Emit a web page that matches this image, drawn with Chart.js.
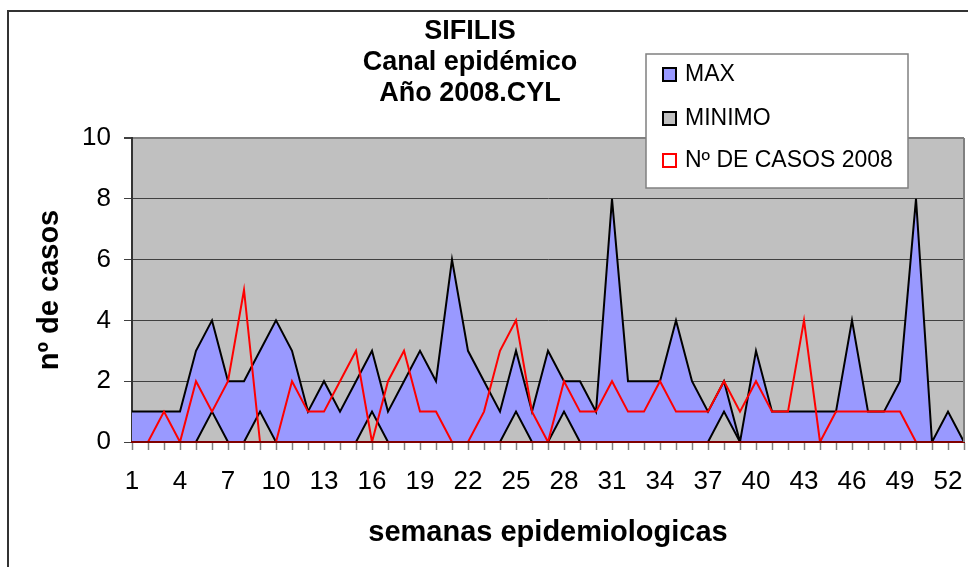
<!DOCTYPE html>
<html>
<head>
<meta charset="utf-8">
<script src="https://cdn.jsdelivr.net/npm/chart.js@4"></script>
<style>
  body { margin: 0; background: #fff; }
  canvas { display: block; }
</style>
</head>
<body>
<canvas id="myChart" width="968" height="567"></canvas>
<script>
// semanas epidemiologicas (1..53)
const semanas = ["1","2","3","4","5","6","7","8","9","10","11","12","13","14","15","16","17","18","19","20",
  "21","22","23","24","25","26","27","28","29","30","31","32","33","34","35","36","37","38","39","40",
  "41","42","43","44","45","46","47","48","49","50","51","52","53"];

const maximo = [1,1,1,1,3,4,2,2,3,4, 3,1,2,1,2,3,1,2,3,2, 6,3,2,1,3,1,3,2,2,1,
  8,2,2,2,4,2,1,2,0,3, 1,1,1,1,1,4,1,1,2,8, 0,1,0];

const minimo = [0,0,0,0,0,1,0,0,1,0, 0,0,0,0,0,1,0,0,0,0, 0,0,0,0,1,0,0,1,0,0,
  0,0,0,0,0,0,0,1,0,0, 0,0,0,0,0,0,0,0,0,0, 0,0,0];

const casos2008 = [null,0,1,0,2,1,2,5,0,0, 2,1,1,2,3,0,2,3,1,1, 0,0,1,3,4,1,0,2,1,1,
  2,1,1,2,1,1,1,2,1,2, 1,1,4,0,1,1,1,1,1,0, null,null,null];

const titulo = ["SIFILIS", "Canal epidémico", "Año 2008.CYL"];

const FONT = "'Liberation Sans', Arial, sans-serif";

// fondo gris del area de trazado + marco exterior
const fondo = {
  id: "fondo",
  beforeDraw(chart) {
    const { ctx, chartArea: a } = chart;
    ctx.save();
    ctx.fillStyle = "#C0C0C0";
    ctx.fillRect(a.left, a.top, a.right - a.left, a.bottom - a.top);
    ctx.strokeStyle = "#333";
    ctx.lineWidth = 2;
    ctx.beginPath();
    ctx.moveTo(8, 567);
    ctx.lineTo(8, 11);
    ctx.lineTo(968, 11);
    ctx.stroke();
    ctx.restore();
  },
  afterDraw(chart) {
    const { ctx, chartArea: a } = chart;
    ctx.save();
    // borde derecho del area
    ctx.strokeStyle = "#808080";
    ctx.lineWidth = 2;
    ctx.beginPath();
    ctx.moveTo(a.right, a.top);
    ctx.lineTo(a.right, a.bottom);
    ctx.stroke();

    // titulo
    ctx.fillStyle = "#000";
    ctx.font = "bold 27px " + FONT;
    ctx.textAlign = "center";
    ctx.textBaseline = "middle";
    const ys = [32, 63, 94];
    titulo.forEach((t, i) => ctx.fillText(t, 470, ys[i]));

    // leyenda
    ctx.fillStyle = "#fff";
    ctx.fillRect(646, 54, 262, 134);
    ctx.strokeStyle = "#808080";
    ctx.lineWidth = 1.5;
    ctx.strokeRect(646, 54, 262, 134);
    const rows = [75, 119, 161];
    ctx.font = "23px " + FONT;
    ctx.textAlign = "left";
    chart.data.datasets.forEach((ds, i) => {
      const y = rows[i];
      ctx.fillStyle = ds.fill ? ds.backgroundColor : "#fff";
      ctx.fillRect(663, y - 7, 13, 13);
      ctx.strokeStyle = ds.borderColor;
      ctx.lineWidth = 2;
      ctx.strokeRect(663, y - 7, 13, 13);
      ctx.fillStyle = "#000";
      ctx.fillText(ds.label, 685, y);
    });
    ctx.restore();
  }
};

const data = {
  labels: semanas,
  datasets: [
    {
      label: "MAX",
      data: maximo,
      borderColor: "#000",
      backgroundColor: "#9999FF",
      borderWidth: 2,
      fill: "origin",
      pointRadius: 0,
      order: 3
    },
    {
      label: "MINIMO",
      data: minimo,
      borderColor: "#000",
      backgroundColor: "#C0C0C0",
      borderWidth: 2,
      fill: "origin",
      pointRadius: 0,
      order: 2
    },
    {
      label: "Nº DE CASOS 2008",
      data: casos2008,
      borderColor: "#FF0000",
      backgroundColor: "#FF0000",
      borderWidth: 2,
      fill: false,
      pointRadius: 0,
      order: 1
    }
  ]
};

const ctx = document.getElementById("myChart").getContext("2d");
myChart = new Chart(ctx, {
  type: "line",
  data: data,
  plugins: [fondo],
  options: {
    responsive: false,
    animation: false,
    layout: { padding: { left: 0, right: 4, top: 138, bottom: 0 } },
    plugins: {
      legend: { display: false },
      tooltip: { enabled: false }
    },
    scales: {
      x: {
        afterFit(scale) {
          scale.height = 125;
          scale.paddingLeft = 0;
          scale.paddingRight = 0;
        },
        grid: {
          drawOnChartArea: false,
          drawTicks: true,
          tickLength: 8,
          tickColor: "#808080",
          tickWidth: 1.5
        },
        border: { color: "#800000", width: 2, z: 1 },
        ticks: {
          autoSkip: false,
          maxRotation: 0,
          padding: 16,
          color: "#000",
          font: { family: FONT, size: 26 },
          callback: function (val, i) {
            return i % 3 === 0 ? semanas[i] : "";
          }
        },
        title: {
          display: true,
          text: "semanas epidemiologicas",
          color: "#000",
          font: { family: FONT, size: 29, weight: "bold" },
          padding: { top: 0, bottom: 17 }
        }
      },
      y: {
        min: 0,
        max: 10,
        afterFit(scale) { scale.width = 132; },
        grid: {
          color: function (c) {
            if (c.tick.value === 0) return "rgba(0,0,0,0)";
            if (c.tick.value === 10) return "#808080";
            return "#404040";
          },
          lineWidth: function (c) {
            return c.tick.value === 10 ? 2 : 1;
          },
          tickLength: 8,
          tickColor: "#404040"
        },
        border: { color: "#333", width: 2 },
        ticks: {
          stepSize: 2,
          padding: 13,
          color: "#000",
          font: { family: FONT, size: 26 }
        },
        title: {
          display: true,
          text: "nº de casos",
          color: "#000",
          font: { family: FONT, size: 29, weight: "bold" },
          padding: { top: 33, bottom: 0 }
        }
      }
    }
  }
});
</script>
</body>
</html>
